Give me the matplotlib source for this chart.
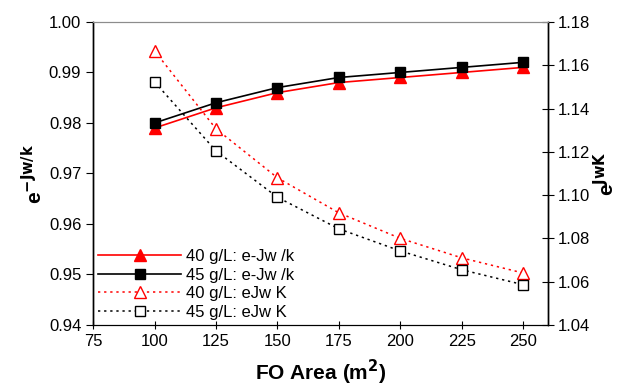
import numpy as np
import matplotlib
matplotlib.use("Agg")
import matplotlib.pyplot as plt

plt.rcParams["font.family"] = ["Liberation Sans", "DejaVu Sans"]

area = [100, 125, 150, 175, 200, 225, 250]
# left axis: e^(-Jw/k)
em_40 = [0.979, 0.983, 0.986, 0.988, 0.989, 0.990, 0.991]
em_45 = [0.980, 0.984, 0.987, 0.989, 0.990, 0.991, 0.992]
# right axis: e^(JwK)
ep_40 = [1.1666, 1.1306, 1.108, 1.0918, 1.080, 1.071, 1.064]
ep_45 = [1.1523, 1.1204, 1.099, 1.0844, 1.0742, 1.0655, 1.0586]

fig = plt.figure(figsize=(6.21, 3.85), dpi=100)
ax = fig.add_axes([0.150, 0.156, 0.732, 0.787])
ax2 = ax.twinx()

l1, = ax.plot(area, em_40, "-", color="red", lw=1.2, marker="^", ms=8,
              mfc="red", mec="red", label="40 g/L: e-Jw /k")
l2, = ax.plot(area, em_45, "-", color="black", lw=1.2, marker="s", ms=6.5,
              mfc="black", mec="black", label="45 g/L: e-Jw /k")
l3, = ax2.plot(area, ep_40, color="red", lw=1.1, ls=(0, (1.5, 2.5)), marker="^", ms=8,
               mfc="white", mec="red", mew=1.0, label="40 g/L: eJw K")
l4, = ax2.plot(area, ep_45, color="black", lw=1.1, ls=(0, (1.5, 2.5)), marker="s", ms=6.5,
               mfc="white", mec="black", mew=1.0, label="45 g/L: eJw K")

ax.set_xlim(75, 260)
ax.set_ylim(0.94, 1.00)
ax2.set_ylim(1.04, 1.18)
ax.set_xticks(np.arange(75, 251, 25))
ax.set_yticks(np.arange(0.94, 1.001, 0.01))
ax2.set_yticks(np.arange(1.04, 1.181, 0.02))
ax.yaxis.set_major_formatter(matplotlib.ticker.FormatStrFormatter("%.2f"))
ax2.yaxis.set_major_formatter(matplotlib.ticker.FormatStrFormatter("%.2f"))

ax.tick_params(axis="x", direction="inout", length=6, labelsize=12)
ax.tick_params(axis="y", direction="out", length=5, labelsize=12)
ax2.tick_params(axis="y", direction="inout", length=8, labelsize=12)
for a in (ax, ax2):
    a.spines["top"].set_color("0.55")
    a.spines["left"].set_linewidth(1.0)
    a.spines["right"].set_linewidth(1.0)

ax.set_xlabel("FO Area (m$^\\mathbf{2}$)", fontsize=15, fontweight="bold", labelpad=6)
ax.set_ylabel("e$^{\\mathbf{-Jw/k}}$", fontsize=15, fontweight="bold", labelpad=2)
ax2.set_ylabel("e$^{\\mathbf{JwK}}$", fontsize=15, fontweight="bold", labelpad=2)

leg = ax.legend(handles=[l1, l2, l3, l4], loc="lower left", frameon=False,
                handlelength=5.0, handletextpad=0.3, labelspacing=0.22,
                fontsize=12, borderaxespad=0.0, borderpad=0.3)

fig.savefig("out.png", dpi=100)
